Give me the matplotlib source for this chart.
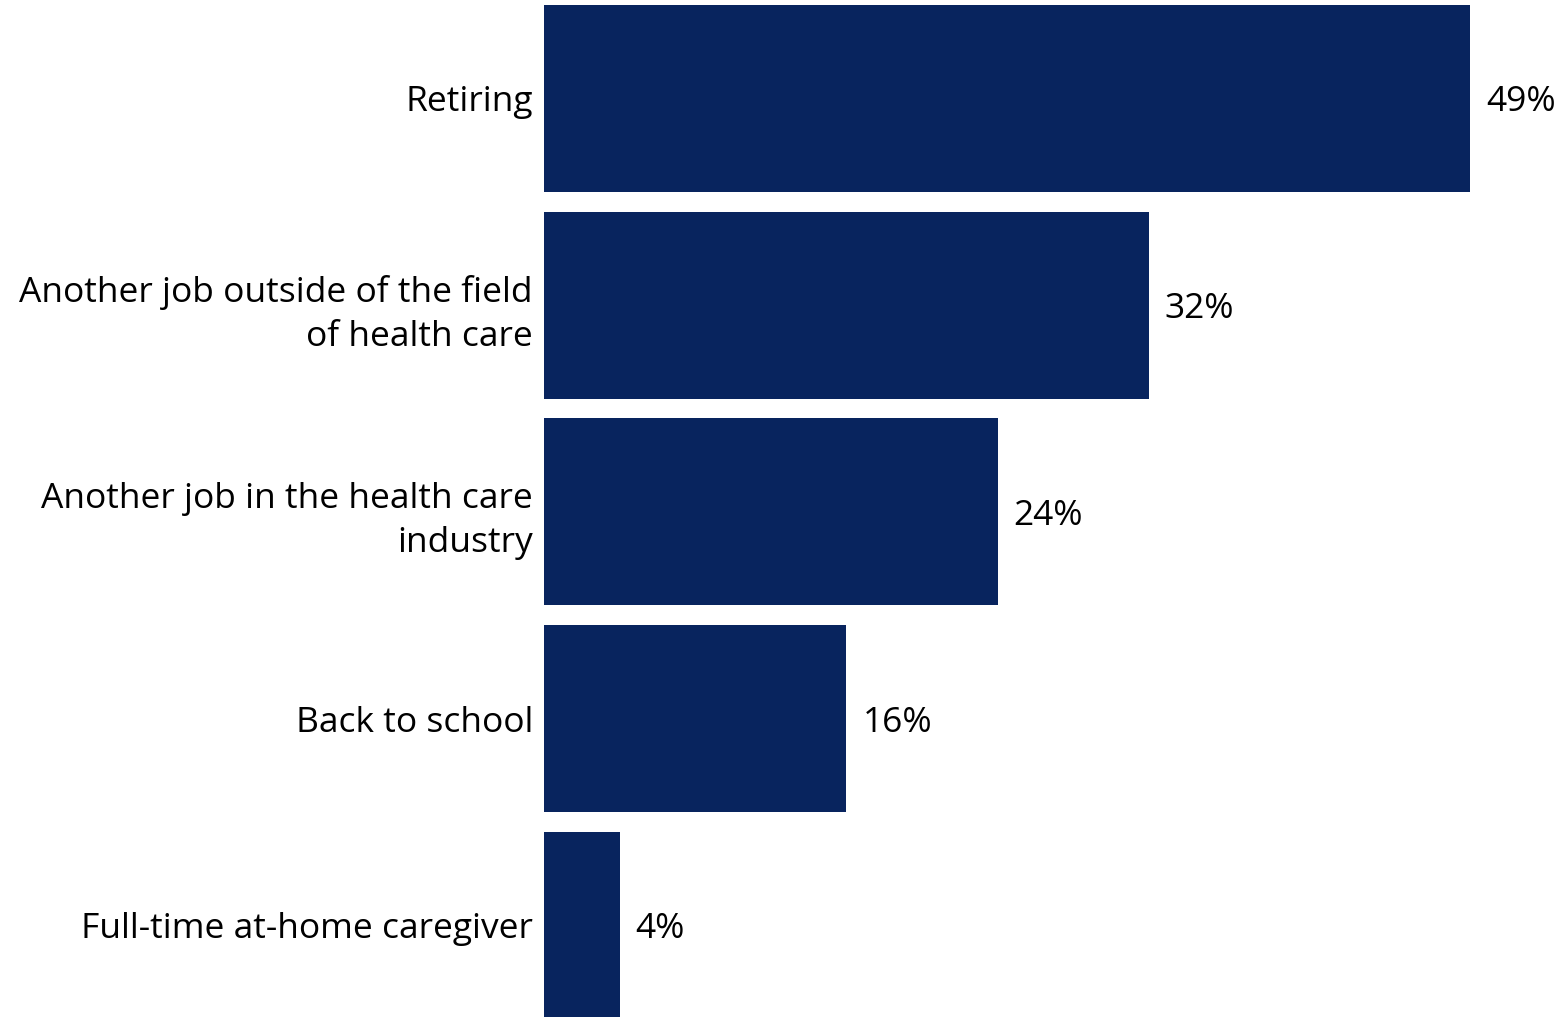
import matplotlib.pyplot as plt

categories = [
    "Retiring",
    "Another job outside of the field\nof health care",
    "Another job in the health care\nindustry",
    "Back to school",
    "Full-time at-home caregiver",
]
values = [49, 32, 24, 16, 4]

bar_color = "#08245E"
plt.rcParams["font.family"] = ["Open Sans", "DejaVu Sans"]

fig = plt.figure(figsize=(15.63, 10.17), dpi=100)
ax = fig.add_axes([544 / 1563, 0, 1 - 544 / 1563, 1])

pos = list(range(len(categories)))
ax.barh(pos, values, height=0.905, color=bar_color)

ax.set_xlim(0, (1563 - 544) / 18.9)
ax.set_ylim(4.443, -0.476)

ax.set_yticks(pos)
ax.set_yticklabels(categories, fontsize=25.5, linespacing=1.38,
                   va="center_baseline")
ax.tick_params(axis="y", length=0, pad=8)
ax.set_xticks([])
for s in ax.spines.values():
    s.set_visible(False)

for p, v in zip(pos, values):
    ax.text(v + 0.85, p, f"{v}%", va="center_baseline", ha="left", fontsize=25.5)

fig.savefig("out.png", dpi=100)
